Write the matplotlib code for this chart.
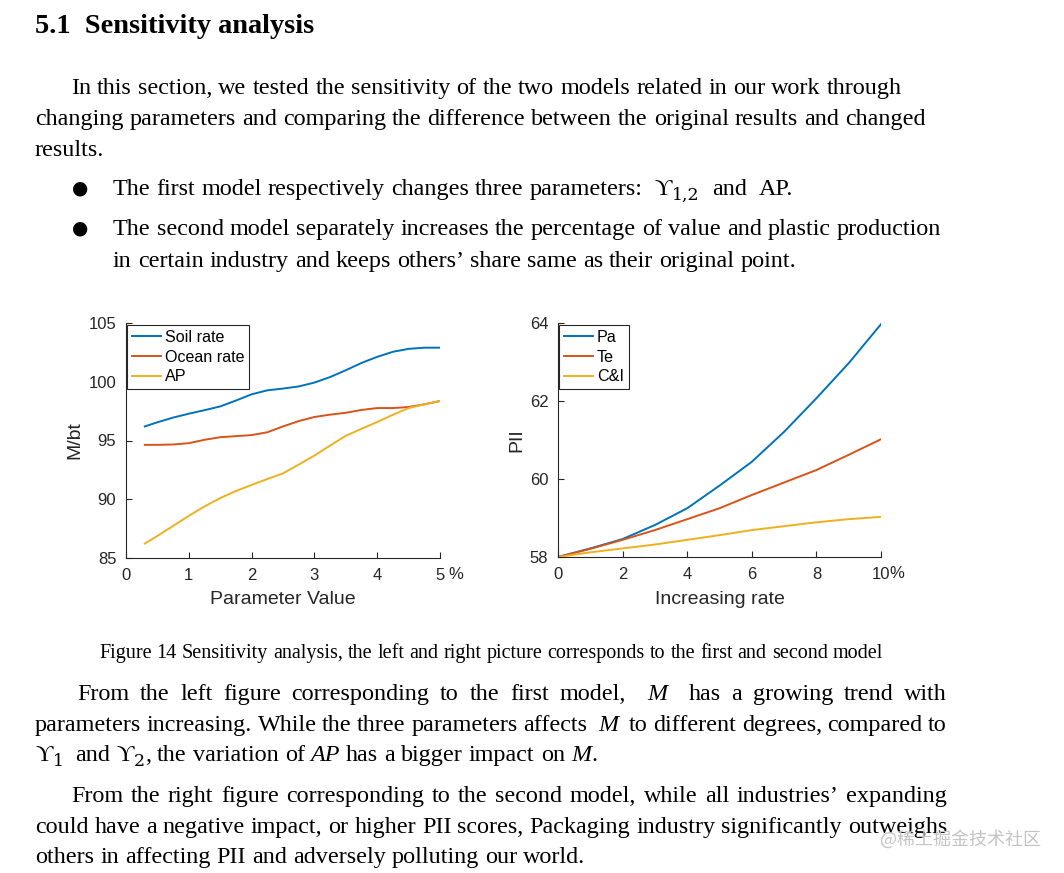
import re
import matplotlib
matplotlib.use("Agg")
import matplotlib.pyplot as plt
from matplotlib.transforms import IdentityTransform

# ---- data ----
param_x = [0.3, 0.5, 0.75, 1.0, 1.25, 1.5, 1.75, 2.0, 2.25, 2.5, 2.75, 3.0,
           3.25, 3.5, 3.75, 4.0, 4.25, 4.5, 4.75, 5.0]
soil_rate = [96.2, 96.55, 96.95, 97.28, 97.58, 97.9, 98.4, 98.93, 99.27, 99.42, 99.6, 99.93,
             100.4, 100.98, 101.6, 102.12, 102.55, 102.8, 102.9, 102.9]
ocean_rate = [94.63, 94.63, 94.66, 94.77, 95.06, 95.28, 95.37, 95.46, 95.7, 96.2, 96.65, 97.0,
              97.2, 97.36, 97.6, 97.76, 97.76, 97.85, 98.08, 98.36]
ap = [86.23, 86.88, 87.73, 88.59, 89.39, 90.1, 90.7, 91.22, 91.72, 92.2, 92.95, 93.72,
      94.57, 95.4, 96.0, 96.57, 97.19, 97.76, 98.08, 98.36]

rate_x = [0, 1, 2, 3, 4, 5, 6, 7, 8, 9, 10]
pa = [58.0, 58.22, 58.46, 58.82, 59.25, 59.83, 60.44, 61.21, 62.07, 62.97, 63.97]
te = [58.0, 58.21, 58.44, 58.69, 58.97, 59.25, 59.59, 59.91, 60.23, 60.62, 61.02]
ci = [58.0, 58.12, 58.22, 58.32, 58.44, 58.56, 58.69, 58.79, 58.89, 58.97, 59.03]

left_labels = ["Soil rate", "Ocean rate", "AP"]
right_labels = ["Pa", "Te", "C&I"]
colors = ["#0072BD", "#D95319", "#EDB120"]

W, H = 1064, 873
fig = plt.figure(figsize=(W / 100, H / 100), dpi=100)
fig.patch.set_facecolor("white")
r = fig.canvas.get_renderer()

SERIF = ["Liberation Serif", "DejaVu Serif"]
SANS = ["Liberation Sans", "DejaVu Sans"]
BODY = 17.4
PX = 100 / 72


def put(x, y, s, size=BODY, style="normal", weight="normal", **kw):
    # x, y in image pixels (y measured from top), baseline anchored
    return fig.text(x, H - y, s, transform=IdentityTransform(), fontsize=size,
                    fontstyle=style, fontweight=weight, family=kw.pop("family", SERIF),
                    va="baseline", ha="left", **kw)


def line(text, y, x0, x1=None, size=BODY):
    # words separated by runs of spaces; *x* = italic, _{x} = subscript
    parts = re.split(r"( +)", text)
    groups = []
    spaces = 0
    for p in parts:
        if not p:
            continue
        if p.startswith(" "):
            spaces = len(p)
            continue
        arts = []
        for it, sub, plain in re.findall(r"\*([^*]+)\*|_\{([^}]+)\}|([^*_]+)", p):
            if it:
                arts.append(put(0, y, it, size, style="italic"))
            elif sub:
                arts.append(put(0, y + size * PX * 0.22, sub, size * 0.72,
                                family=["DejaVu Serif"]))
            else:
                arts.append(put(0, y, plain, size))
        groups.append((spaces, arts, [a.get_window_extent(r).width for a in arts]))
        spaces = 0
    total = sum(sum(ws) for _, _, ws in groups)
    nsp = sum(s for s, _, _ in groups)
    if x1 is None or nsp == 0:
        unit = size * PX * 0.25
    else:
        unit = (x1 - x0 - total) / nsp
    x = x0
    for s, arts, ws in groups:
        x += s * unit
        for a, w in zip(arts, ws):
            a.set_x(x)
            x += w


def bullet(y):
    fig.text(80, H - y, "\u25CF", transform=IdentityTransform(), fontsize=13.5,
             family=["DejaVu Sans"], ha="center", va="center")


# ---- text of the page ----
put(35, 33, "5.1  Sensitivity analysis", size=20.4, weight="bold")
line("In this section, we tested the sensitivity of the two models related in our work through", 94, 71)
line("changing parameters and comparing the difference between the original results and changed", 125, 35)
line("results.", 156, 35)
bullet(188)
line("The first model respectively changes three parameters:  \u03D2_{1,2}  and  AP.", 195, 113)
bullet(228)
line("The second model separately increases the percentage of value and plastic production", 235, 113)
line("in certain industry and keeps others\u2019 share same as their original point.", 267, 113)

line("Figure 14 Sensitivity analysis, the left and right picture corresponds to the first and second model",
     658, 99, size=14.5)

line("From the left figure corresponding to the first model,  *M*  has a growing trend with", 700, 77, 947)
line("parameters increasing. While the three parameters affects  *M*  to different degrees, compared to",
     731, 35, 947)
line("\u03D2_{1}  and \u03D2_{2}, the variation of *AP* has a bigger impact on *M*.", 761, 35)
line("From the right figure corresponding to the second model, while all industries\u2019 expanding",
     802, 71, 947)
line("could have a negative impact, or higher PII scores, Packaging industry significantly outweighs",
     833, 35, 947)
line("others in affecting PII and adversely polluting our world.", 863, 35)

put(880, 845, "@稀土掘金技术社区", size=13, color="#c4c4c4",
    family=["Noto Sans CJK SC", "DejaVu Sans"])


# ---- charts ----
def style_axes(ax):
    for s in ["top", "right"]:
        ax.spines[s].set_visible(False)
    for s in ["left", "bottom"]:
        ax.spines[s].set_color("#262626")
        ax.spines[s].set_linewidth(0.8)
    ax.tick_params(direction="in", length=4, width=0.8, colors="#262626",
                   labelsize=12, pad=7)
    for t in ax.get_xticklabels() + ax.get_yticklabels():
        t.set_family(SANS)


def finish(ax, xlabel, ylabel, xlab_y, ylab_x):
    style_axes(ax)
    ax.set_xlabel(xlabel, fontsize=14, family=SANS, color="#262626")
    ax.set_ylabel(ylabel, fontsize=14, family=SANS, color="#262626")
    ax.xaxis.set_label_coords(0.5, xlab_y)
    ax.xaxis.label.set_va("center")
    ax.yaxis.set_label_coords(ylab_x, 0.5)
    ax.yaxis.label.set_va("center")
    ax.annotate("%", xy=(1, 0), xycoords="axes fraction", xytext=(11.5, -12.2),
                textcoords="offset points", ha="center", va="center",
                fontsize=12, family=SANS, color="#262626")
    leg = ax.legend(loc="upper left", bbox_to_anchor=(0.003, 0.992), borderaxespad=0,
                    fancybox=False, edgecolor="#262626", framealpha=1,
                    handlelength=1.8, handletextpad=0.25, borderpad=0.3, labelspacing=0.3,
                    prop={"family": SANS, "size": 11.6})
    leg.get_frame().set_linewidth(0.8)


ax1 = fig.add_axes([126 / W, 1 - 558 / H, 314 / W, 235 / H])
for ys, lab, c in zip([soil_rate, ocean_rate, ap], left_labels, colors):
    ax1.plot(param_x, ys, color=c, lw=1.4, label=lab)
ax1.set_xlim(0, 5)
ax1.set_ylim(85, 105)
ax1.set_xticks([0, 1, 2, 3, 4, 5])
ax1.set_yticks([85, 90, 95, 100, 105])
finish(ax1, "Parameter Value", "M/bt", (558 - 600) / 235, (75 - 126) / 314)

ax2 = fig.add_axes([558 / W, 1 - 557 / H, 323 / W, 234 / H])
for ys, lab, c in zip([pa, te, ci], right_labels, colors):
    ax2.plot(rate_x, ys, color=c, lw=1.4, label=lab)
ax2.set_xlim(0, 10)
ax2.set_ylim(58, 64)
ax2.set_xticks([0, 2, 4, 6, 8, 10])
ax2.set_yticks([58, 60, 62, 64])
finish(ax2, "Increasing rate", "PII", (557 - 600) / 234, (517 - 558) / 323)

fig.savefig("out.png", dpi=100)
